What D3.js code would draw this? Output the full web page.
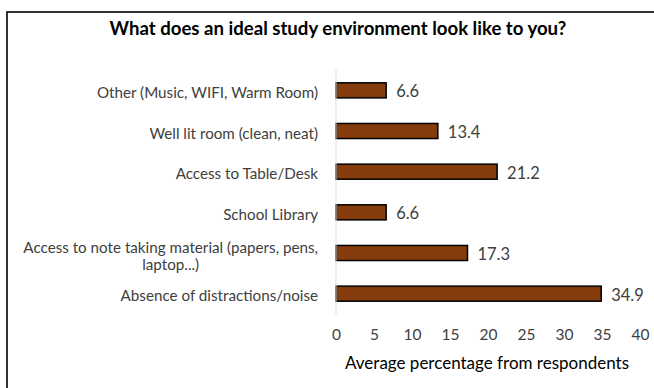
<!DOCTYPE html>
<html>
<head>
<meta charset="utf-8">
<script src="https://cdn.jsdelivr.net/npm/d3@7"></script>
<style>
  html, body { margin: 0; padding: 0; background: #fff; }
  svg { display: block; }
  text { font-family: Lato, "Open Sans", sans-serif; }
</style>
</head>
<body>
<svg id="chart" width="654" height="388"></svg>
<script>
// Survey responses, listed top to bottom as drawn
const categories = [
  "Other (Music, WIFI, Warm Room)",
  "Well lit room (clean, neat)",
  "Access to Table/Desk",
  "School Library",
  "Access to note taking material (papers, pens,|laptop...)",
  "Absence of distractions/noise"
];
const values = [6.6, 13.4, 21.2, 6.6, 17.3, 34.9];
const xTicks = [0, 5, 10, 15, 20, 25, 30, 35, 40];

const chartTitle = "What does an ideal study environment look like to you?";
const xTitle = "Average percentage from respondents";

const svg = d3.select("#chart");
const W = 654, H = 388;

// Chart frame (extends past the right and bottom edges)
svg.append("rect")
  .attr("x", 7).attr("y", 12)
  .attr("width", W + 10).attr("height", H + 10)
  .attr("fill", "#fff")
  .attr("stroke", "#000")
  .attr("stroke-width", 1.6);

const plot = { left: 336, right: 640, top: 70, bottom: 314 };

const x = d3.scaleLinear().domain([0, 40]).range([plot.left, plot.right]);
const y = d3.scaleBand()
  .domain(d3.range(categories.length))
  .range([plot.top, plot.bottom])
  .paddingInner(0.63)
  .paddingOuter(0.315);

// Title
svg.append("text")
  .attr("x", 338).attr("y", 28)
  .attr("text-anchor", "middle")
  .attr("dominant-baseline", "central")
  .attr("font-size", 18.6)
  .attr("font-weight", "bold")
  .attr("fill", "#000")
  .text(chartTitle);

// Bars
svg.append("g").selectAll("rect")
  .data(values)
  .join("rect")
  .attr("x", x(0))
  .attr("y", (d, i) => y(i))
  .attr("width", d => x(d) - x(0))
  .attr("height", y.bandwidth())
  .attr("fill", "#843C0C")
  .attr("stroke", "#000")
  .attr("stroke-width", 1.5);

// Vertical category axis line
svg.append("line")
  .attr("x1", x(0)).attr("x2", x(0))
  .attr("y1", plot.top).attr("y2", plot.bottom)
  .attr("stroke", "#d9d9d9")
  .attr("stroke-width", 1);

// Value labels
svg.append("g").selectAll("text")
  .data(values)
  .join("text")
  .attr("x", d => x(d) + 10)
  .attr("y", (d, i) => y(i) + y.bandwidth() / 2 + 1)
  .attr("dominant-baseline", "central")
  .attr("font-size", 16.5)
  .attr("fill", "#404040")
  .text(d => d.toFixed(1));

// Category labels (wrapped lines centred within a right-aligned block)
const labelRight = 318;
const lineH = 17;
const catG = svg.append("g");
categories.forEach((c, i) => {
  const lines = c.split("|");
  const cy = y(i) + y.bandwidth() / 2 + (lines.length > 1 ? 2.5 : 1.5);
  const t = catG.append("text")
    .attr("font-size", 15.2)
    .attr("fill", "#404040")
    .attr("dominant-baseline", "central");
  const spans = lines.map((ln, k) => t.append("tspan")
    .attr("y", cy + (k - (lines.length - 1) / 2) * lineH)
    .text(ln));
  const widths = spans.map(s => s.node().getComputedTextLength());
  const maxW = d3.max(widths);
  spans.forEach((s, k) => {
    s.attr("x", labelRight - maxW / 2 - widths[k] / 2);
  });
});

// X axis (labels only)
const xAxis = d3.axisBottom(x).tickValues(xTicks).tickSize(0).tickPadding(0);
const xg = svg.append("g")
  .attr("transform", `translate(0, 329)`)
  .call(xAxis);
xg.select(".domain").remove();
xg.selectAll("text")
  .attr("font-family", "Lato, 'Open Sans', sans-serif")
  .attr("font-size", 15.5)
  .attr("fill", "#404040");

// X axis title
svg.append("text")
  .attr("x", 487).attr("y", 362)
  .attr("text-anchor", "middle")
  .attr("dominant-baseline", "central")
  .attr("font-size", 17)
  .attr("fill", "#000")
  .text(xTitle);
</script>
</body>
</html>
